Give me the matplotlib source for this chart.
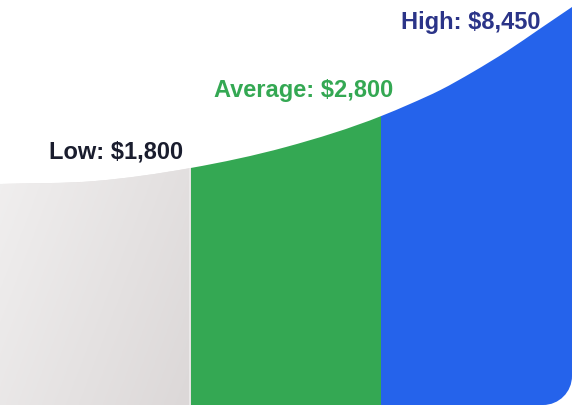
import matplotlib
matplotlib.use("Agg")
import matplotlib.pyplot as plt
import numpy as np
from matplotlib.path import Path
from matplotlib.patches import PathPatch
from matplotlib.colors import LinearSegmentedColormap

# ---------------------------------------------------------------------------
# Data
# ---------------------------------------------------------------------------
tiers = ["Low", "Average", "High"]
amounts = [1800, 2800, 8450]

# outline of the area (x in tier units, height in chart units)
curve_x = [0.0, 0.5, 1.0, 1.5, 2.0, 2.15, 2.31, 2.48, 2.66, 2.83, 3.0]
curve_h = [221, 224, 237, 258, 289, 301, 315, 333, 354, 376, 398]

# ---------------------------------------------------------------------------
# Style / layout
# ---------------------------------------------------------------------------
plt.rcParams["font.family"] = ["Liberation Sans", "DejaVu Sans"]

C_FILL = ["#e6e3e3", "#34a853", "#2563eb"]
C_TEXT = ["#1a1d2e", "#34a853", "#2b3488"]
label_x = [0.61, 1.595, 2.47]
label_y = [254, 315, 384]

W, H = 572, 406
YMAX = 406
corner = 29  # px radius of bottom-right corner

fig = plt.figure(figsize=(W / 100, H / 100), dpi=100)
ax = fig.add_axes([0, 0, 1, 1])
ax.set_xlim(0, 3)
ax.set_ylim(0, YMAX)
ax.axis("off")


def smooth_path(xs, ys):
    # cubic Hermite (x-aware tangents) -> bezier segments
    x = np.asarray(xs, float)
    y = np.asarray(ys, float)
    d = np.diff(y) / np.diff(x)
    m = np.empty_like(y)
    m[0], m[-1] = d[0], d[-1]
    m[1:-1] = (d[:-1] * np.diff(x)[1:] + d[1:] * np.diff(x)[:-1]) / \
        (np.diff(x)[1:] + np.diff(x)[:-1])
    verts = [(x[0], y[0])]
    codes = [Path.LINETO]
    for i in range(len(x) - 1):
        h = x[i + 1] - x[i]
        verts += [(x[i] + h / 3, y[i] + m[i] * h / 3),
                  (x[i + 1] - h / 3, y[i + 1] - m[i + 1] * h / 3),
                  (x[i + 1], y[i + 1])]
        codes += [Path.CURVE4] * 3
    return verts, codes


rx = corner / (W / 3)
ry = corner * YMAX / H
k = 0.5523

verts = [(0, 0)]
codes = [Path.MOVETO]
cv, cc = smooth_path(curve_x, curve_h)
verts += cv
codes += cc
verts += [(3, ry),
          (3, ry * (1 - k)), (3 - rx * (1 - k), 0), (3 - rx, 0),
          (0, 0), (0, 0)]
codes += [Path.LINETO,
          Path.CURVE4, Path.CURVE4, Path.CURVE4,
          Path.LINETO, Path.CLOSEPOLY]
area = PathPatch(Path(verts, codes), facecolor="none", edgecolor="none")
ax.add_patch(area)

bars = ax.bar([0.5, 1.5, 2.5], [YMAX] * 3, width=1.0, color=C_FILL,
              linewidth=0, zorder=1)
for b in bars:
    b.set_clip_path(area)

# soft diagonal shading in the low tier
gx, gy = np.meshgrid(np.linspace(0, 1, 200), np.linspace(0, 1, 200))
g = 0.55 * gx + 0.45 * gy
grey = ax.imshow(g, extent=(0, 0.99, 0, YMAX), origin="upper",
                 cmap=LinearSegmentedColormap.from_list(
                     "g", ["#f5f4f4", "#dcd8d8"]),
                 aspect="auto", zorder=2, interpolation="bilinear")
grey.set_clip_path(area)
edge = ax.bar(0.9925, YMAX, width=0.006, color="#ebe9e9", linewidth=0,
              zorder=2)
edge[0].set_clip_path(area)

for i, (t, a) in enumerate(zip(tiers, amounts)):
    ax.text(label_x[i], label_y[i], f"{t}: ${a:,}", color=C_TEXT[i],
            fontsize=17, fontweight="bold", ha="center", va="center",
            zorder=5)

fig.savefig("out.png", dpi=100)
plt.close(fig)
